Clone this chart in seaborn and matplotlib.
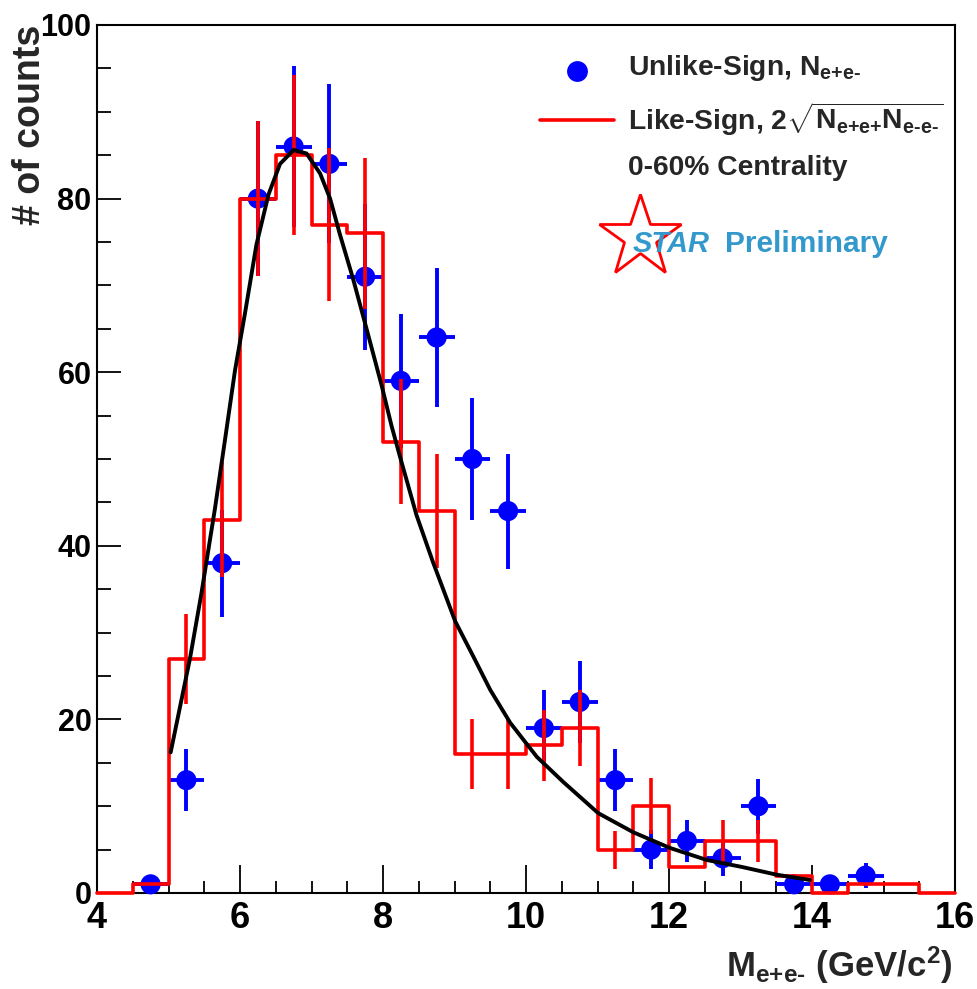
import numpy as np
import pandas as pd
import matplotlib
matplotlib.use("Agg")
import matplotlib.pyplot as plt
import seaborn as sns

# ---------------- data ----------------
unlike_mass = [4.75, 5.25, 5.75, 6.25, 6.75, 7.25, 7.75, 8.25, 8.75, 9.25, 9.75,
               10.25, 10.75, 11.25, 11.75, 12.25, 12.75, 13.25, 13.75, 14.25, 14.75]
unlike_counts = [1, 13, 38, 80, 86, 84, 71, 59, 64, 50, 44,
                 19, 22, 13, 5, 6, 4, 10, 1, 1, 2]

like_mass = [4.25, 4.75, 5.25, 5.75, 6.25, 6.75, 7.25, 7.75, 8.25, 8.75, 9.25, 9.75,
             10.25, 10.75, 11.25, 11.75, 12.25, 12.75, 13.25, 13.75, 14.25, 14.75,
             15.25, 15.75]
like_counts = [0, 1, 27, 43, 80, 85, 77, 76, 52, 44, 16, 16,
               17, 19, 5, 10, 3, 6, 6, 2, 0, 1, 1, 0]
like_err = [0, 0, 5.2, 6.6, 8.9, 9.2, 8.8, 8.7, 7.2, 6.6, 4.0, 4.0,
            4.1, 4.4, 2.2, 3.2, 0, 2.4, 2.4, 0, 0, 0, 0, 0]
bin_edges = [4.0, 4.5, 5.0, 5.5, 6.0, 6.5, 7.0, 7.5, 8.0, 8.5, 9.0, 9.5, 10.0,
             10.5, 11.0, 11.5, 12.0, 12.5, 13.0, 13.5, 14.0, 14.5, 15.0, 15.5, 16.0]

fit_mass = [5.03, 5.30, 5.46, 5.65, 5.79, 5.93, 6.07, 6.23, 6.40, 6.56, 6.75, 6.93,
            7.12, 7.26, 7.40, 7.58, 7.77, 7.98, 8.12, 8.24, 8.47, 8.70, 9.01, 9.26,
            9.50, 9.78, 10.15, 10.52, 11.01, 11.50, 12.01, 12.53, 13.02, 13.51, 13.97]
fit_counts = [16.2, 27.0, 34.5, 44.3, 52.2, 60.2, 66.8, 74.7, 80.5, 84.0, 85.6, 85.2,
              82.9, 80.0, 75.8, 70.8, 65.0, 58.5, 53.8, 50.2, 43.5, 38.1, 31.3, 27.3,
              23.4, 19.6, 15.7, 12.8, 9.2, 7.0, 5.2, 3.8, 3.0, 2.1, 1.5]

x_ticks = [4, 6, 8, 10, 12, 14, 16]
y_ticks = [0, 20, 40, 60, 80, 100]

# ---------------- style ----------------
sns.set_style("white")
plt.rcParams["font.family"] = ["Liberation Sans", "DejaVu Sans"]
plt.rcParams["mathtext.fontset"] = "custom"
plt.rcParams["mathtext.rm"] = "Liberation Sans:bold"
plt.rcParams["mathtext.bf"] = "Liberation Sans:bold"
plt.rcParams["mathtext.it"] = "Liberation Sans:bold"
plt.rcParams["mathtext.sf"] = "Liberation Sans:bold"

W, H = 978, 989
fig = plt.figure(figsize=(W / 100, H / 100), dpi=100)
ax = fig.add_axes([97 / W, 1 - 893 / H, (955 - 97) / W, (893 - 25) / H])


def fp(x, y):
    return (x / W, 1 - y / H)


unlike = pd.DataFrame({"mass": unlike_mass, "counts": unlike_counts})
like = pd.DataFrame({"mass": like_mass, "counts": like_counts, "err": like_err})
fit = pd.DataFrame({"mass": fit_mass, "counts": fit_counts})

# unlike-sign points with errors
ax.errorbar(unlike["mass"], unlike["counts"], yerr=np.sqrt(unlike["counts"]),
            xerr=0.25, fmt="none", ecolor="#0000ff", elinewidth=2.8,
            capsize=0, zorder=2)
sns.scatterplot(data=unlike, x="mass", y="counts", ax=ax, color="#0000ff",
                s=210, edgecolor="none", zorder=3, clip_on=False)

# like-sign histogram
sns.histplot(data=like, x="mass", weights="counts", bins=bin_edges,
             element="step", fill=False, color="#ff0000", linewidth=2.6,
             ax=ax, zorder=4)
for art in ax.patches + ax.lines:
    art.set_clip_on(False)
nz = like[like["err"] > 0]
ax.errorbar(nz["mass"], nz["counts"], yerr=nz["err"],
            fmt="none", ecolor="#ff0000", elinewidth=2.6, capsize=0, zorder=5)

# fit curve
sns.lineplot(data=fit, x="mass", y="counts", ax=ax, color="black",
             linewidth=2.8, sort=False, estimator=None, zorder=6)

# ---------------- axes ----------------
ax.set_xlim(4, 16)
ax.set_ylim(0, 100)
ax.set_xticks(x_ticks)
ax.set_yticks(y_ticks)
ax.set_xticks(np.arange(4, 16.01, 0.5), minor=True)
ax.set_yticks(np.arange(0, 100.1, 5), minor=True)
ax.set_xticklabels([str(t) for t in x_ticks], fontsize=26, fontweight="bold")
ax.set_yticklabels([str(t) for t in y_ticks], fontsize=22, fontweight="bold")
ax.tick_params(axis="both", which="both", direction="in", top=False, right=False,
               bottom=True, left=True, colors="black", width=1.3)
ax.tick_params(axis="x", which="major", length=20, pad=6)
ax.tick_params(axis="x", which="minor", length=9)
ax.tick_params(axis="y", which="major", length=17, pad=4)
ax.tick_params(axis="y", which="minor", length=10)
for s in ax.spines.values():
    s.set_visible(True)
    s.set_color("black")
    s.set_linewidth(1.5)
ax.set_xlabel("")
ax.set_ylabel("")

fig.text(*fp(30, 25), "# of counts", rotation=90, ha="center", va="top",
         fontsize=27, fontweight="bold")
fig.text(*fp(953, 977), r"$\mathrm{M}_{\text{e+e-}}\ \mathrm{(GeV/c^{2})}$",
         ha="right", va="baseline", fontsize=25)

# ---------------- legend / annotations ----------------
ax.plot([fp(577, 71)[0]], [fp(577, 71)[1]], transform=fig.transFigure,
        marker="o", ms=15, color="#0000ff", mec="none", clip_on=False)
ax.plot([540 / W, 614 / W], [1 - 119.5 / H] * 2, transform=fig.transFigure,
        color="#ff0000", lw=2.6, clip_on=False)
fig.text(*fp(628, 75), r"Unlike-Sign, N$_{\text{e+e-}}$", ha="left",
         va="baseline", fontsize=20.3, fontweight="bold")
fig.text(*fp(628, 130), r"Like-Sign, $2\sqrt{\mathrm{N}_{\text{e+e+}}\mathrm{N}_{\text{e-e-}}}$",
         ha="left", va="baseline", fontsize=20.3, fontweight="bold")
fig.text(*fp(628, 175), "0-60% Centrality", ha="left", va="baseline",
         fontsize=20.3, fontweight="bold")
ax.plot([fp(640, 237)[0]], [fp(640, 237)[1]], transform=fig.transFigure,
        marker="*", ms=62, mfc="none", mec="#ff0000", mew=2.0, clip_on=False)
fig.text(*fp(633, 252), "STAR", ha="left", va="baseline", fontsize=21,
         fontweight="bold", style="italic", color="#3399cc")
fig.text(*fp(725, 252), "Preliminary", ha="left", va="baseline", fontsize=21.5,
         fontweight="bold", color="#3399cc")

fig.savefig("out.png", dpi=100)
